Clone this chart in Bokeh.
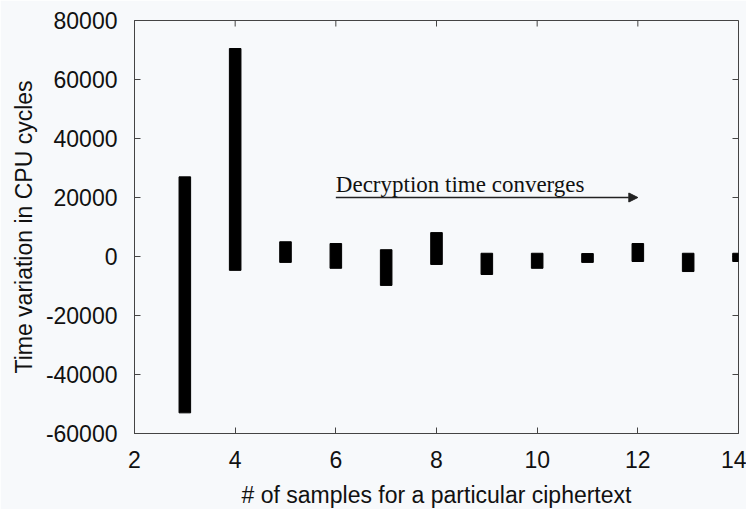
from bokeh.plotting import figure
from bokeh.models import Range1d, FixedTicker, Arrow, NormalHead, Label
from bokeh.embed import file_html
from bokeh.resources import INLINE

# data
samples = [3, 4, 5, 6, 7, 8, 9, 10, 11, 12, 13, 14]
low = [-53000, -4700, -2000, -4000, -9800, -2700, -6100, -4000, -2000, -1700, -5100, -1700]
high = [27000, 70500, 5000, 4400, 2300, 8100, 1100, 1100, 1000, 4400, 1100, 1100]
x_ticks = [2, 4, 6, 8, 10, 12, 14]
y_ticks = [-60000, -40000, -20000, 0, 20000, 40000, 60000, 80000]
note_text = "Decryption time converges"
note_start, note_end, note_y, note_text_y = 6, 12, 20000, 24300

FONT = "Liberation Sans"
AX = "#444444"
BG = "#f7f9fb"
X0, X1, Y0, Y1 = 2, 14, -60000, 80000

p = figure(output_backend="svg", toolbar_location=None,
           x_range=Range1d(X0, X1), y_range=Range1d(Y0, Y1),
           x_axis_label="# of samples for a particular ciphertext",
           y_axis_label="Time variation in CPU cycles",
           frame_width=604, frame_height=413,
           min_border_left=134, min_border_top=20, min_border_right=8, min_border_bottom=10)
p.background_fill_color = BG
p.border_fill_color = BG
p.outline_line_color = AX
p.grid.grid_line_color = None

for ax in (p.xaxis[0], p.yaxis[0]):
    ax.axis_line_color = AX
    ax.major_tick_line_color = AX
    ax.major_tick_in = 6
    ax.major_tick_out = 0
    ax.minor_tick_line_color = None
    ax.major_label_text_font = FONT
    ax.major_label_text_font_size = "23px"
    ax.major_label_text_color = "#111111"
    ax.axis_label_text_font = FONT
    ax.axis_label_text_font_size = "23px"
    ax.axis_label_text_font_style = "normal"
    ax.axis_label_text_color = "#111111"

p.xaxis[0].ticker = FixedTicker(ticks=x_ticks)
p.yaxis[0].ticker = FixedTicker(ticks=y_ticks)
p.yaxis[0].major_label_overrides = {v: str(v) for v in y_ticks}
p.xaxis[0].major_label_standoff = 17
p.xaxis[0].axis_label_standoff = 11
p.yaxis[0].major_label_standoff = 17
p.yaxis[0].axis_label_standoff = 6

# mirrored inward ticks on the top and right borders (6 px long)
tick_dx = 6 * (X1 - X0) / 604
tick_dy = 6 * (Y1 - Y0) / 413
p.segment(x0=x_ticks, x1=x_ticks, y0=[Y1] * len(x_ticks), y1=[Y1 - tick_dy] * len(x_ticks),
          line_color=AX, line_width=1)
p.segment(x0=[X1] * len(y_ticks), x1=[X1 - tick_dx] * len(y_ticks), y0=y_ticks, y1=y_ticks,
          line_color=AX, line_width=1)

p.vbar(x=samples, bottom=low, top=high, width=0.23, color="black")

p.add_layout(Arrow(end=NormalHead(size=9, fill_color="#222222", line_color="#222222", line_width=1),
                   x_start=note_start, y_start=note_y, x_end=note_end, y_end=note_y,
                   line_color="#222222", line_width=1.5))
p.add_layout(Label(x=note_start, y=note_text_y, text=note_text,
                   text_font="Liberation Serif", text_font_size="23px",
                   text_color="#111111", text_baseline="alphabetic"))

open("out.html", "w").write(file_html(p, INLINE))
